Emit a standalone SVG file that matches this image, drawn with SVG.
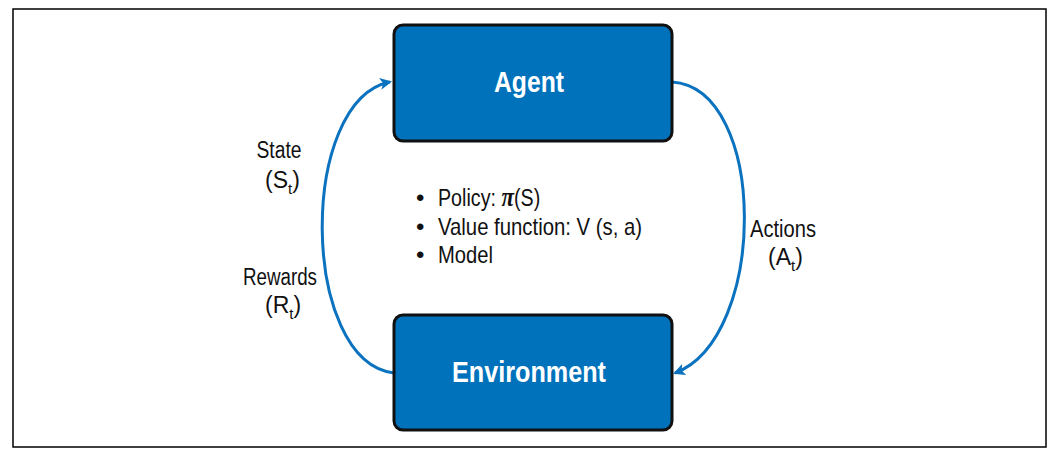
<svg xmlns="http://www.w3.org/2000/svg" width="1054" height="454" viewBox="0 0 1054 454">
<style>
.box{fill:#0072BC;stroke:#111;stroke-width:3}
.title{font-family:"Liberation Sans Narrow","Liberation Sans",Arial,sans-serif;font-weight:bold;font-size:30px;fill:#fff;text-anchor:middle}
.lbl{font-family:"Liberation Sans Narrow","Liberation Sans",Arial,sans-serif;font-size:23px;fill:#111;text-anchor:middle}
.st{font-family:"Liberation Sans Narrow","Liberation Sans",Arial,sans-serif;font-size:23px;fill:#111}
.sub{font-size:15px}
.list{font-family:"Liberation Sans Narrow","Liberation Sans",Arial,sans-serif;font-size:24px;fill:#111}
.pi{font-family:"Liberation Serif","Times New Roman",serif;font-weight:bold;font-style:italic;font-size:28px}
.conn{fill:none;stroke:#0A72BE;stroke-width:3}
</style>
<defs>
<marker id="arr" viewBox="0 0 12 12" refX="10" refY="6" markerWidth="12" markerHeight="12" markerUnits="userSpaceOnUse" orient="auto">
<path d="M0,0 L12,6 L0,12 L3,6 Z" fill="#0A72BE"/>
</marker>
</defs>
<rect x="13" y="9" width="1033" height="438" fill="#fff" stroke="#000" stroke-width="1.5"/>
<g id="connectors">
<path class="conn" d="M394,373 C300,362 298,100 390,82" marker-end="url(#arr)"/>
<path class="conn" d="M672,82 C768,88 768,338 675,373" marker-end="url(#arr)"/>
</g>
<g id="agent">
<rect class="box" x="394" y="25" width="278" height="116" rx="9"/>
<text class="title" x="529" y="92" textLength="70" lengthAdjust="spacingAndGlyphs">Agent</text>
</g>
<g id="environment">
<rect class="box" x="394" y="315" width="278" height="115" rx="9"/>
<text class="title" x="529" y="382" textLength="154" lengthAdjust="spacingAndGlyphs">Environment</text>
</g>
<g id="labels">
<text class="lbl" x="279" y="158" textLength="45" lengthAdjust="spacingAndGlyphs">State</text>
<text class="st" x="265" y="188">(S<tspan class="sub" dy="6">t</tspan><tspan dy="-6">)</tspan></text>
<text class="lbl" x="280" y="285" textLength="74" lengthAdjust="spacingAndGlyphs">Rewards</text>
<text class="st" x="265" y="313">(R<tspan class="sub" dy="6">t</tspan><tspan dy="-6">)</tspan></text>
<text class="lbl" x="783" y="237" textLength="66" lengthAdjust="spacingAndGlyphs">Actions</text>
<text class="st" x="768" y="265">(A<tspan class="sub" dy="6">t</tspan><tspan dy="-6">)</tspan></text>
</g>
<g id="agent-components">
<text class="list" x="416" y="206">•</text>
<text class="list" transform="translate(438,206) scale(0.82,1)" x="0" y="0">Policy: <tspan class="pi">π</tspan>(S)</text>
<text class="list" x="416" y="235">•</text>
<text class="list" x="438" y="235" textLength="204" lengthAdjust="spacingAndGlyphs">Value function: V (s, a)</text>
<text class="list" x="416" y="263">•</text>
<text class="list" x="438" y="263" textLength="55" lengthAdjust="spacingAndGlyphs">Model</text>
</g>
</svg>
